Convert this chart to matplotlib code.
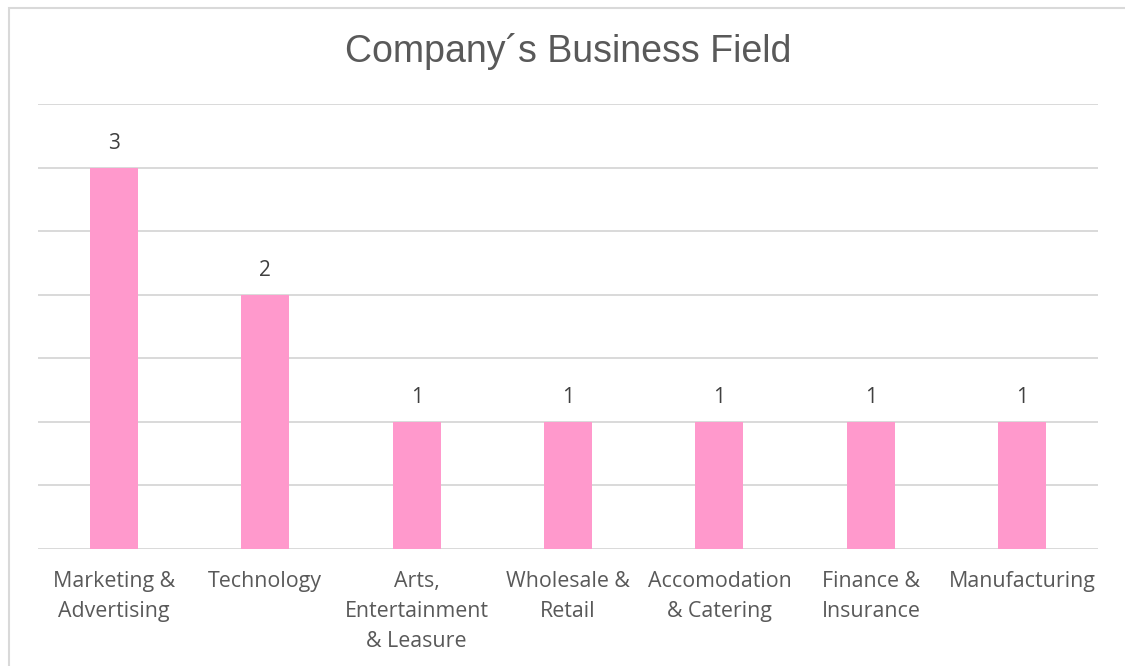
import matplotlib
matplotlib.use("Agg")
import matplotlib.pyplot as plt
from matplotlib.patches import Rectangle

categories = ["Marketing &\nAdvertising", "Technology", "Arts,\nEntertainment\n& Leasure",
              "Wholesale &\nRetail", "Accomodation\n& Catering", "Finance &\nInsurance",
              "Manufacturing"]
counts = [3, 2, 1, 1, 1, 1, 1]
title = "Company\u00b4s Business Field"

W, H = 1125, 666
fig = plt.figure(figsize=(W / 100, H / 100), dpi=100)
fig.patch.set_facecolor("white")

# Outer chart-area frame (runs off the right and bottom edges)
fig.patches.append(Rectangle((8.5 / W, -0.1), 1.2, 1 - 7.5 / H + 0.1,
                             transform=fig.transFigure, fill=False,
                             edgecolor="#D9D9D9", linewidth=1.5))

ax = fig.add_axes([38 / W, 1 - 549 / H, (1098 - 38) / W, (549 - 104) / H])
x = range(len(categories))
ax.bar(x, counts, width=0.317, color="#FF99CC", zorder=3)
ax.set_xlim(-0.5, len(categories) - 0.5)
ax.set_ylim(0, 3.5)
ax.set_yticks([0.5 * i for i in range(8)])
ax.yaxis.grid(True, color="#D9D9D9", linewidth=1.4, zorder=0)
ax.tick_params(axis="y", left=False, labelleft=False)
ax.tick_params(axis="x", bottom=False, pad=12)
for s in ax.spines.values():
    s.set_visible(False)
ax.set_xticks(list(x))
ax.set_xticklabels(categories, fontsize=15.4, color="#595959", family="Open Sans",
                   linespacing=1.58, va="top")

for xi, v in zip(x, counts):
    ax.annotate(str(v), (xi, v), xytext=(0, 10), textcoords="offset points",
                ha="center", va="bottom", fontsize=15, color="#404040", family="Open Sans")

fig.text(568 / W, 1 - 51 / H, title, ha="center", va="center", fontsize=27,
         color="#595959", family="Liberation Sans")

fig.savefig("out.png", dpi=100, facecolor="white")
